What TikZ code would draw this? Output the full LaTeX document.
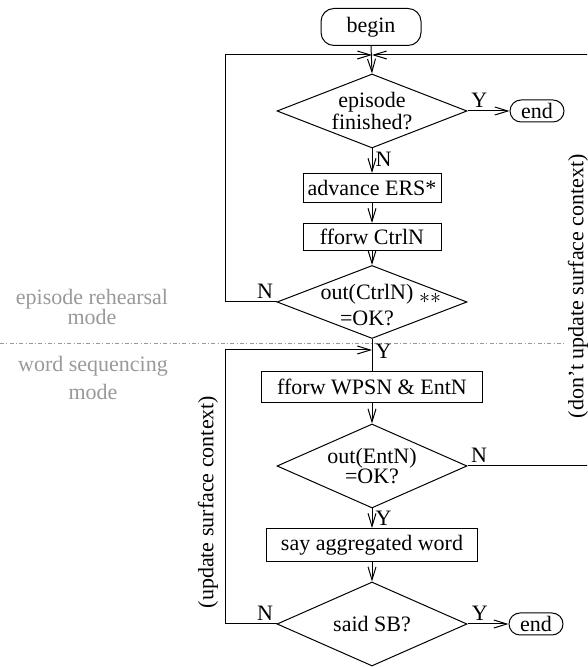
\documentclass[tikz,border=0pt]{standalone}
\usepackage{fontspec}
\setmainfont{Liberation Serif}
\usetikzlibrary{shapes.geometric,arrows.meta}
\begin{document}
\begin{tikzpicture}[x=0.5pt, y=0.5pt, line width=0.5pt,
	font=\fontsize{11pt}{10pt}\selectfont,
	>={Straight Barb[length=6.5pt,width=4pt]},
	terminal/.style={draw, rounded corners=5.5pt, minimum width=27pt, minimum height=11pt, inner sep=0pt},
	box/.style={draw, minimum height=14.5pt, inner sep=0pt},
	decision/.style={draw, diamond, inner sep=0pt, minimum width=95pt, minimum height=42pt},
	lbl/.style={inner sep=1.5pt},
	modetext/.style={text=black!40, align=center},
	modeline/.style={draw=black!40, dash pattern=on 2pt off 1.2pt on 0.4pt off 1.2pt}]
	\useasboundingbox (0,0) rectangle (587,667);
	\clip (0,0) rectangle (587,667);

	\draw [modeline] (0,323) -- (587,323);
	\node [modetext] (erm) at (92,360) {episode rehearsal\\mode};
	\node [modetext] (wsm) at (93,289) {word sequencing\\[3pt]mode};

	\node [terminal, rounded corners=6.5pt, minimum width=50pt, minimum height=18.5pt] (begin) at (371,640) {begin};
	\node [decision, minimum height=37pt] (d1) at (372,556) {};
	\node [align=center] (d1t) at (d1) {episode\\finished?};
	\node [terminal] (end1) at (537,556) {end};
	\node [box, minimum width=69pt] (adv) at (372,479) {advance ERS*};
	\node [box, minimum width=69pt, minimum height=13.5pt] (ctrl) at (372,430) {fforw CtrlN};
	\node [decision, minimum height=36.5pt] (d2) at (372,365) {};
	\node [align=center] (d2t) at (367,362) {out(CtrlN)\\[3pt]=OK?};
	\node (ast) at (430,369) {$**$};
	\node [box, minimum width=110.5pt, minimum height=15.5pt] (wpsn) at (372,280) {fforw WPSN \& EntN};
	\node [decision] (d3) at (372,201) {};
	\node [align=center] (d3t) at (d3) {out(EntN)\\=OK?};
	\node [box, minimum width=105.5pt, minimum height=16.5pt] (say) at (372,122) {say aggregated word};
	\node [decision] (d4) at (372,43) {};
	\node (d4t) at (d4) {said SB?};
	\node [terminal] (end2) at (536,43) {end};

	\coordinate (jtop) at (372,612);
	\coordinate (jmid) at (372,317);
	\coordinate (lx) at (225,0);
	\coordinate (rx) at (595,0);

	\node [rotate=90, fill=white, inner sep=1pt] (noupd) at (578,381) {(don't update surface context)};
	\node [rotate=90, inner sep=1pt] (upd) at (208,165) {(update surface context)};

	\draw [->] (begin.south) -- (d1.north);
	\draw [->] (d1.east) -- node [lbl, above, pos=0.28] {Y} (end1.west);
	\draw [->] (d1.south) -- node [lbl, right, pos=0.43] {N} (adv.north);
	\draw [->] (adv.south) -- (ctrl.north);
	\draw [->] (ctrl.south) -- (d2.north);
	\draw [->] (d2.west) node [lbl, above left] {N} -- (d2.west -| lx) |- (jtop);
	\draw (d2.south) -- node [lbl, right, pos=0.4] {Y} (wpsn.north);
	\draw [->] (wpsn.south) -- (d3.north);
	\draw [->] (d3.east) node [lbl, above right] {N} -- (d3.east -| rx) |- (jtop);
	\draw [->] (d3.south) -- node [lbl, right, pos=0.48] {Y} (say.north);
	\draw [->] (say.south) -- (d4.north);
	\draw [->] (d4.east) -- node [lbl, above, pos=0.3] {Y} (end2.west);
	\draw [->] (d4.west) node [lbl, above left] {N} -- (d4.west -| lx) |- (jmid);
\end{tikzpicture}
\end{document}
